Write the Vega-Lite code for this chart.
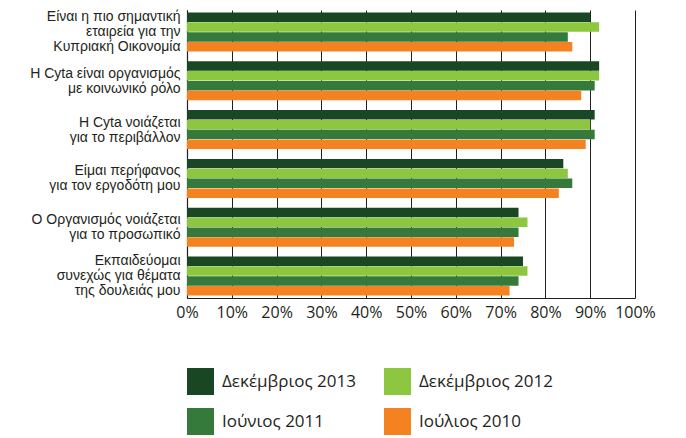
{
  "$schema": "https://vega.github.io/schema/vega-lite/v6.json",
  "autosize": {"type": "none"},
  "padding": {"left": 187, "top": 10, "right": 51, "bottom": 140},
  "width": 448,
  "height": 288,
  "background": "white",
  "config": {"view": {"stroke": null}},
  "data": {"values": [
    {"cat": "Είναι η πιο σημαντική|εταιρεία για την|Κυπριακή Οικονομία", "period": "Δεκέμβριος 2013", "value": 90},
    {"cat": "Είναι η πιο σημαντική|εταιρεία για την|Κυπριακή Οικονομία", "period": "Δεκέμβριος 2012", "value": 92},
    {"cat": "Είναι η πιο σημαντική|εταιρεία για την|Κυπριακή Οικονομία", "period": "Ιούνιος 2011", "value": 85},
    {"cat": "Είναι η πιο σημαντική|εταιρεία για την|Κυπριακή Οικονομία", "period": "Ιούλιος 2010", "value": 86},
    {"cat": "Η Cyta είναι οργανισμός|με κοινωνικό ρόλο", "period": "Δεκέμβριος 2013", "value": 92},
    {"cat": "Η Cyta είναι οργανισμός|με κοινωνικό ρόλο", "period": "Δεκέμβριος 2012", "value": 92},
    {"cat": "Η Cyta είναι οργανισμός|με κοινωνικό ρόλο", "period": "Ιούνιος 2011", "value": 91},
    {"cat": "Η Cyta είναι οργανισμός|με κοινωνικό ρόλο", "period": "Ιούλιος 2010", "value": 88},
    {"cat": "Η Cyta νοιάζεται|για το περιβάλλον", "period": "Δεκέμβριος 2013", "value": 91},
    {"cat": "Η Cyta νοιάζεται|για το περιβάλλον", "period": "Δεκέμβριος 2012", "value": 90},
    {"cat": "Η Cyta νοιάζεται|για το περιβάλλον", "period": "Ιούνιος 2011", "value": 91},
    {"cat": "Η Cyta νοιάζεται|για το περιβάλλον", "period": "Ιούλιος 2010", "value": 89},
    {"cat": "Είμαι περήφανος|για τον εργοδότη μου", "period": "Δεκέμβριος 2013", "value": 84},
    {"cat": "Είμαι περήφανος|για τον εργοδότη μου", "period": "Δεκέμβριος 2012", "value": 85},
    {"cat": "Είμαι περήφανος|για τον εργοδότη μου", "period": "Ιούνιος 2011", "value": 86},
    {"cat": "Είμαι περήφανος|για τον εργοδότη μου", "period": "Ιούλιος 2010", "value": 83},
    {"cat": "Ο Οργανισμός νοιάζεται|για το προσωπικό", "period": "Δεκέμβριος 2013", "value": 74},
    {"cat": "Ο Οργανισμός νοιάζεται|για το προσωπικό", "period": "Δεκέμβριος 2012", "value": 76},
    {"cat": "Ο Οργανισμός νοιάζεται|για το προσωπικό", "period": "Ιούνιος 2011", "value": 74},
    {"cat": "Ο Οργανισμός νοιάζεται|για το προσωπικό", "period": "Ιούλιος 2010", "value": 73},
    {"cat": "Εκπαιδεύομαι|συνεχώς για θέματα|της δουλειάς μου", "period": "Δεκέμβριος 2013", "value": 75},
    {"cat": "Εκπαιδεύομαι|συνεχώς για θέματα|της δουλειάς μου", "period": "Δεκέμβριος 2012", "value": 76},
    {"cat": "Εκπαιδεύομαι|συνεχώς για θέματα|της δουλειάς μου", "period": "Ιούνιος 2011", "value": 74},
    {"cat": "Εκπαιδεύομαι|συνεχώς για θέματα|της δουλειάς μου", "period": "Ιούλιος 2010", "value": 72}
  ]},
  "mark": {"type": "bar"},
  "encoding": {
    "y": {
      "field": "cat", "type": "nominal", "sort": null,
      "scale": {"paddingInner": 0.2, "paddingOuter": 0.05},
      "axis": {
        "title": null, "ticks": false, "domainColor": "#231f20", "domainWidth": 1.2,
        "labelExpr": "split(datum.label, '|')",
        "labelFont": "Liberation Sans, sans-serif",
        "labelFontSize": 14, "labelColor": "#231f20", "labelLineHeight": 15,
        "labelOffset": {"condition": {"test": "length(split(datum.label, '|')) > 2", "value": -15}, "value": -7},
        "labelPadding": 7, "labelLimit": 200
      }
    },
    "yOffset": {
      "field": "period", "type": "nominal", "sort": null,
      "scale": {"paddingInner": 0.04}
    },
    "x": {
      "field": "value", "type": "quantitative",
      "scale": {"domain": [0, 100], "nice": false},
      "axis": {
        "title": null, "values": [0,10,20,30,40,50,60,70,80,90,100],
        "labelExpr": "datum.value + '%'",
        "grid": true, "gridColor": "#231f20", "gridWidth": 1, "gridOpacity": 1,
        "ticks": false, "domainColor": "#231f20", "domainWidth": 1.2,
        "labelFont": "Open Sans, sans-serif", "labelFontSize": 16, "labelColor": "#231f20",
        "labelPadding": 6, "labelFlush": false
      }
    },
    "color": {
      "field": "period", "type": "nominal", "sort": null,
      "scale": {
        "domain": ["Δεκέμβριος 2013", "Δεκέμβριος 2012", "Ιούνιος 2011", "Ιούλιος 2010"],
        "range": ["#1a4723", "#8dc63f", "#357a3a", "#f58220"]
      },
      "legend": {
        "title": null, "orient": "none", "legendX": 0, "legendY": 358,
        "direction": "horizontal", "columns": 2, "columnPadding": 28, "rowPadding": 13,
        "symbolType": "square", "symbolSize": 729, "symbolStrokeWidth": 0, "symbolOpacity": 1,
        "labelFont": "Open Sans, sans-serif", "labelFontSize": 17, "labelColor": "#231f20",
        "labelOffset": 8, "labelLimit": 300
      }
    }
  }
}
